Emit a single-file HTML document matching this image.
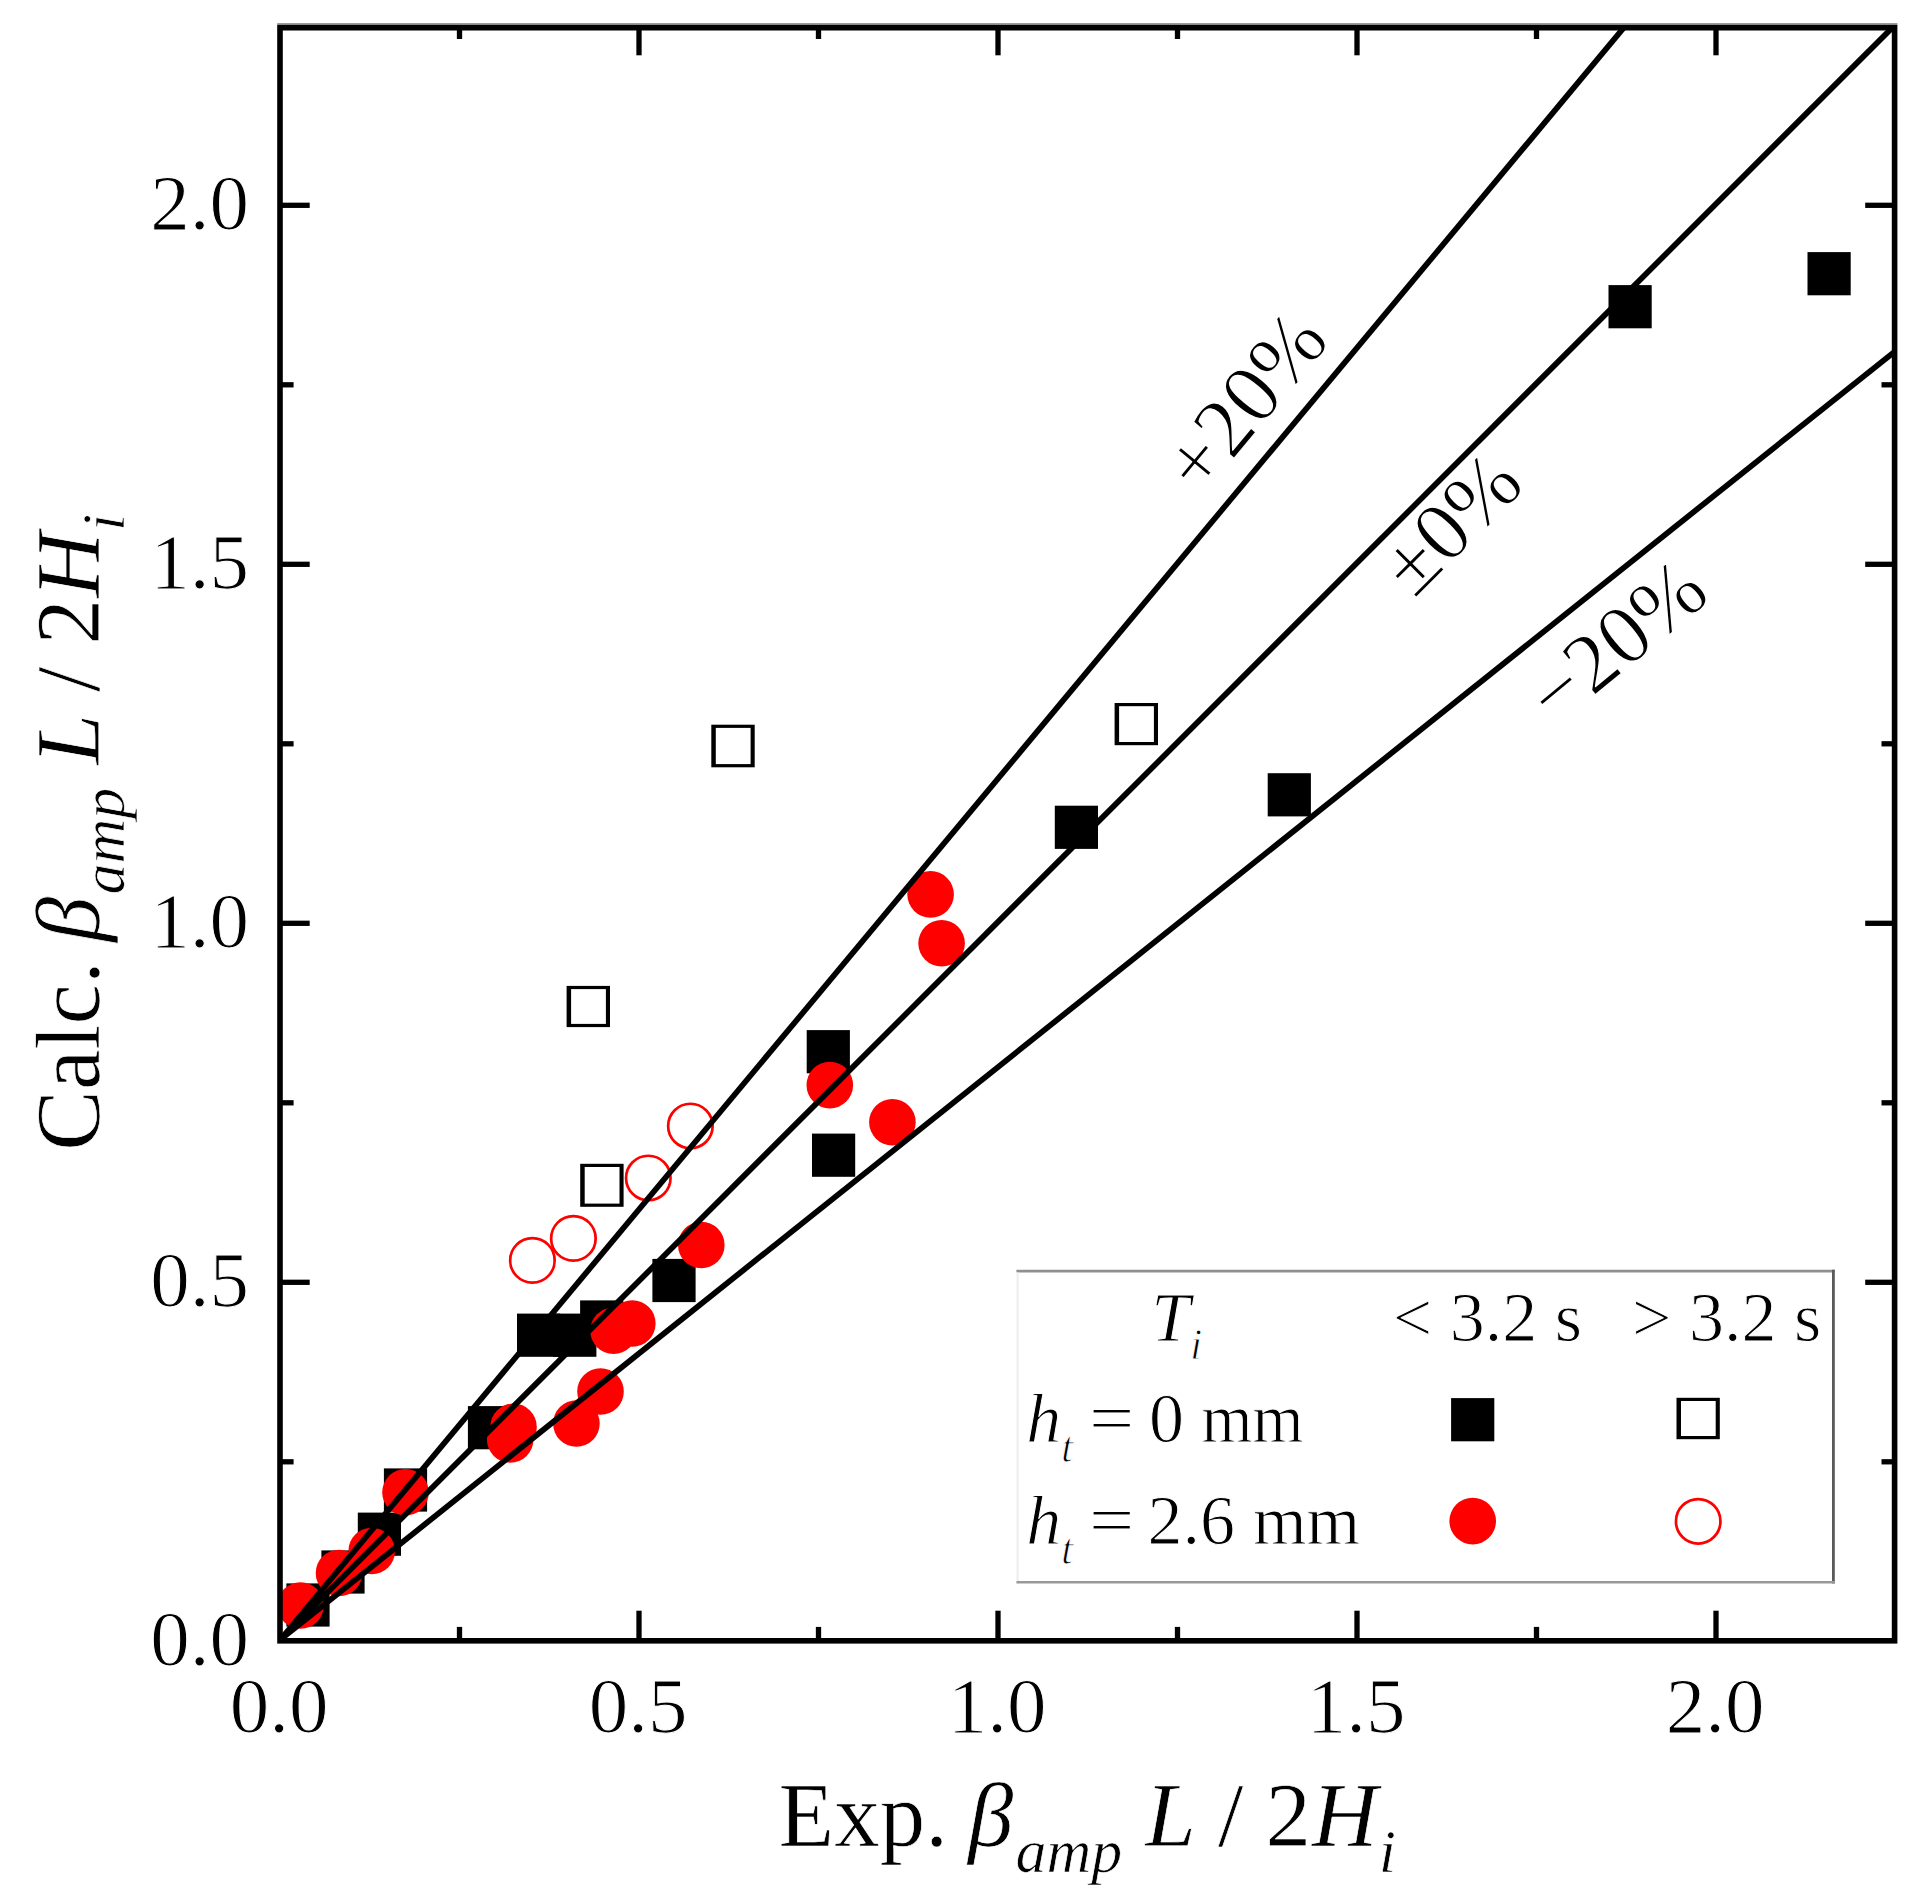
<!DOCTYPE html>
<html lang="en"><head><meta charset="utf-8"><title>Calc. vs Exp. amplification</title>
<style>
html,body{margin:0;padding:0;background:#fff;}
body{width:1924px;height:1903px;overflow:hidden;}
svg{display:block;}
text{font-family:"Liberation Serif","Times New Roman",serif;fill:#000;}
.it{font-style:italic;}
</style></head><body>
<svg width="1924" height="1903" viewBox="0 0 1924 1903">
<rect x="0" y="0" width="1924" height="1903" fill="#fff"/>
<defs><clipPath id="plot"><rect x="280.0" y="27.7" width="1614.6" height="1613.1"/></clipPath></defs>
<g clip-path="url(#plot)">
<g fill="#000">
<rect x="286.4" y="1583.4" width="43.2" height="43.2"/>
<rect x="321.4" y="1550.4" width="43.2" height="43.2"/>
<rect x="357.8" y="1512.6" width="43.2" height="43.2"/>
<rect x="383.9" y="1468.4" width="43.2" height="43.2"/>
<rect x="467.9" y="1406.1" width="43.2" height="43.2"/>
<rect x="517.0" y="1313.6" width="43.2" height="43.2"/>
<rect x="553.2" y="1313.6" width="43.2" height="43.2"/>
<rect x="580.1" y="1300.4" width="43.2" height="43.2"/>
<rect x="652.4" y="1258.9" width="43.2" height="43.2"/>
<rect x="806.7" y="1030.1" width="43.2" height="43.2"/>
<rect x="812.0" y="1133.6" width="43.2" height="43.2"/>
<rect x="1054.8" y="805.7" width="43.2" height="43.2"/>
<rect x="1267.7" y="773.2" width="43.2" height="43.2"/>
<rect x="1608.5" y="285.1" width="43.2" height="43.2"/>
<rect x="1807.5" y="252.1" width="43.2" height="43.2"/>
</g>
<g fill="#fe0000">
<circle cx="300.5" cy="1605.5" r="23.3"/>
<circle cx="339.0" cy="1573.0" r="23.3"/>
<circle cx="371.7" cy="1551.0" r="23.3"/>
<circle cx="405.5" cy="1492.3" r="23.3"/>
<circle cx="513.5" cy="1426.9" r="23.3"/>
<circle cx="510.2" cy="1439.4" r="23.3"/>
<circle cx="576.4" cy="1423.5" r="23.3"/>
<circle cx="600.5" cy="1391.5" r="23.3"/>
<circle cx="613.5" cy="1330.7" r="23.3"/>
<circle cx="632.3" cy="1323.5" r="23.3"/>
<circle cx="701.3" cy="1245.0" r="23.3"/>
<circle cx="829.8" cy="1085.1" r="23.3"/>
<circle cx="892.4" cy="1122.2" r="23.3"/>
<circle cx="930.6" cy="894.4" r="23.3"/>
<circle cx="941.6" cy="943.3" r="23.3"/>
</g>
<rect x="580.2" y="1163.8" width="43.4" height="43.0" fill="#000"/><rect x="584.7" y="1167.0" width="34.8" height="36.6" fill="#fff"/>
<rect x="566.6" y="985.9" width="43.4" height="41.2" fill="#000"/><rect x="571.1" y="989.1" width="34.8" height="34.8" fill="#fff"/>
<rect x="711.3" y="724.7" width="43.4" height="42.6" fill="#000"/><rect x="715.8" y="727.9" width="34.8" height="36.2" fill="#fff"/>
<rect x="1114.6" y="703.0" width="43.4" height="42.2" fill="#000"/><rect x="1119.1" y="706.2" width="34.8" height="35.8" fill="#fff"/>
<g fill="#fff" stroke="#fe0000" stroke-width="2.7">
<circle cx="532.4" cy="1260.4" r="22.25"/>
<circle cx="573.4" cy="1238.4" r="22.25"/>
<circle cx="648.3" cy="1178.0" r="22.25"/>
<circle cx="690.4" cy="1126.0" r="22.25"/>
</g>
<g stroke="#000" stroke-width="5.7" fill="none">
<line x1="279.5" y1="1640.8" x2="2002.7" y2="-427.0"/>
<line x1="279.3" y1="1640.6" x2="2002.5" y2="-82.6"/>
<line x1="280.0" y1="1639.9" x2="2003.2" y2="265.0"/>
</g>
</g>
<g fill="none">
<line x1="1016.4" y1="1271.1" x2="1834.8" y2="1271.1" stroke="#8f8f8f" stroke-width="2.6"/>
<line x1="1833.4" y1="1269.8" x2="1833.4" y2="1583.5" stroke="#5a5a5a" stroke-width="2.8"/>
<line x1="1016.4" y1="1582.3" x2="1834.8" y2="1582.3" stroke="#999" stroke-width="2.4"/>
<line x1="1017.7" y1="1272.4" x2="1017.7" y2="1581.1" stroke="#f1f1f1" stroke-width="2.6"/>
</g>
<rect x="1451.1" y="1398.1" width="43.2" height="43.2" fill="#000"/>
<rect x="1676.5" y="1397.8" width="43.3" height="41.4" fill="#000"/><rect x="1681.0" y="1401.0" width="34.7" height="35.0" fill="#fff"/>
<circle cx="1472.7" cy="1521.1" r="23.3" fill="#fe0000"/>
<circle cx="1698.2" cy="1521.3" r="22.25" fill="#fff" stroke="#fe0000" stroke-width="2.7"/>
<line x1="277.2" y1="24" x2="1897.4" y2="24" stroke="#9a9a9a" stroke-width="2"/>
<rect x="280.0" y="27.7" width="1614.6" height="1613.1" fill="none" stroke="#000" stroke-width="5.6"/>
<g stroke="#000" stroke-width="5.3">
<line x1="459.5" y1="1639.0" x2="459.5" y2="1626.9"/>
<line x1="459.5" y1="29.5" x2="459.5" y2="39.0"/>
<line x1="281.8" y1="1461.8" x2="293.6" y2="1461.8"/>
<line x1="1892.8" y1="1461.8" x2="1881.5" y2="1461.8"/>
<line x1="639.0" y1="1639.0" x2="639.0" y2="1610.7"/>
<line x1="639.0" y1="29.5" x2="639.0" y2="55.3"/>
<line x1="281.8" y1="1282.3" x2="309.7" y2="1282.3"/>
<line x1="1892.8" y1="1282.3" x2="1865.2" y2="1282.3"/>
<line x1="818.5" y1="1639.0" x2="818.5" y2="1626.9"/>
<line x1="818.5" y1="29.5" x2="818.5" y2="39.0"/>
<line x1="281.8" y1="1102.8" x2="293.6" y2="1102.8"/>
<line x1="1892.8" y1="1102.8" x2="1881.5" y2="1102.8"/>
<line x1="998.0" y1="1639.0" x2="998.0" y2="1610.7"/>
<line x1="998.0" y1="29.5" x2="998.0" y2="55.3"/>
<line x1="281.8" y1="923.3" x2="309.7" y2="923.3"/>
<line x1="1892.8" y1="923.3" x2="1865.2" y2="923.3"/>
<line x1="1177.5" y1="1639.0" x2="1177.5" y2="1626.9"/>
<line x1="1177.5" y1="29.5" x2="1177.5" y2="39.0"/>
<line x1="281.8" y1="743.8" x2="293.6" y2="743.8"/>
<line x1="1892.8" y1="743.8" x2="1881.5" y2="743.8"/>
<line x1="1357.0" y1="1639.0" x2="1357.0" y2="1610.7"/>
<line x1="1357.0" y1="29.5" x2="1357.0" y2="55.3"/>
<line x1="281.8" y1="564.3" x2="309.7" y2="564.3"/>
<line x1="1892.8" y1="564.3" x2="1865.2" y2="564.3"/>
<line x1="1536.5" y1="1639.0" x2="1536.5" y2="1626.9"/>
<line x1="1536.5" y1="29.5" x2="1536.5" y2="39.0"/>
<line x1="281.8" y1="384.8" x2="293.6" y2="384.8"/>
<line x1="1892.8" y1="384.8" x2="1881.5" y2="384.8"/>
<line x1="1716.0" y1="1639.0" x2="1716.0" y2="1610.7"/>
<line x1="1716.0" y1="29.5" x2="1716.0" y2="55.3"/>
<line x1="281.8" y1="205.3" x2="309.7" y2="205.3"/>
<line x1="1892.8" y1="205.3" x2="1865.2" y2="205.3"/>
</g>
<g font-size="79" stroke="#fff" stroke-width="1.0" stroke-linejoin="round">
<text x="279.0" y="1732.2" text-anchor="middle">0.0</text>
<text x="249" y="1664.7" text-anchor="end">0.0</text>
<text x="638.0" y="1732.2" text-anchor="middle">0.5</text>
<text x="249" y="1305.7" text-anchor="end">0.5</text>
<text x="997.0" y="1732.2" text-anchor="middle">1.0</text>
<text x="249" y="946.7" text-anchor="end">1.0</text>
<text x="1356.0" y="1732.2" text-anchor="middle">1.5</text>
<text x="249" y="587.7" text-anchor="end">1.5</text>
<text x="1715.0" y="1732.2" text-anchor="middle">2.0</text>
<text x="249" y="228.7" text-anchor="end">2.0</text>
</g>
<text id="xlab" transform="translate(778.6,1846.3)" font-size="91" stroke="#fff" stroke-width="0.7" stroke-linejoin="round"><tspan x="0">Exp.</tspan><tspan class="it" x="189.4">β</tspan><tspan class="it" font-size="62" x="236.9" dy="25.4">amp</tspan><tspan class="it" x="366.6" dy="-25.4">L</tspan><tspan x="439.4">/</tspan><tspan x="486.8">2</tspan><tspan class="it" x="533.5">H</tspan><tspan class="it" font-size="62" x="600.2" dy="25.4">i</tspan></text>
<text id="ylab" transform="translate(99,1150.8) rotate(-90)" font-size="91" stroke="#fff" stroke-width="0.7" stroke-linejoin="round"><tspan x="0">Calc.</tspan><tspan class="it" x="208.9">β</tspan><tspan class="it" font-size="62" x="256.4" dy="25.4">amp</tspan><tspan class="it" x="386.1" dy="-25.4">L</tspan><tspan x="458.9">/</tspan><tspan x="506.3">2</tspan><tspan class="it" x="553.0">H</tspan><tspan class="it" font-size="62" x="619.7" dy="25.4">i</tspan></text>
<g stroke="#fff" stroke-width="1.3" stroke-linejoin="round">
<text id="a1" transform="translate(1201,498) rotate(-50.2)" font-size="85">+20%</text>
<text id="a2" transform="translate(1413.7,600.1) rotate(-45)" font-size="85">±0%</text>
<text id="a3" transform="translate(1555.4,727.8) rotate(-39.5)" font-size="85">−20%</text>
</g>
<g font-size="70" stroke="#fff" stroke-width="1.0" stroke-linejoin="round">
<text x="1151.3" y="1340.7" class="it">T</text>
<text x="1189.9" y="1358.7" class="it" font-size="44">i</text>
<text x="1392.8" y="1340.7">&lt; 3.2 s</text>
<text x="1632" y="1340.7">&gt; 3.2 s</text>
<text x="1026.2" y="1441.7" class="it">h</text>
<text x="1060.9" y="1461.9" class="it" font-size="44">t</text>
<text x="1089.1" y="1441.7" textLength="45.3" lengthAdjust="spacingAndGlyphs">=</text>
<text x="1149.1" y="1441.7">0</text>
<text x="1201.5" y="1441.7" textLength="102.0" lengthAdjust="spacingAndGlyphs">mm</text>
<text x="1026.2" y="1543.6" class="it">h</text>
<text x="1060.9" y="1563.8" class="it" font-size="44">t</text>
<text x="1089.1" y="1543.6" textLength="45.3" lengthAdjust="spacingAndGlyphs">=</text>
<text x="1147.5" y="1543.6">2.6</text>
<text x="1253.0" y="1543.6" textLength="107.2" lengthAdjust="spacingAndGlyphs">mm</text>
</g>
</svg>
</body></html>
